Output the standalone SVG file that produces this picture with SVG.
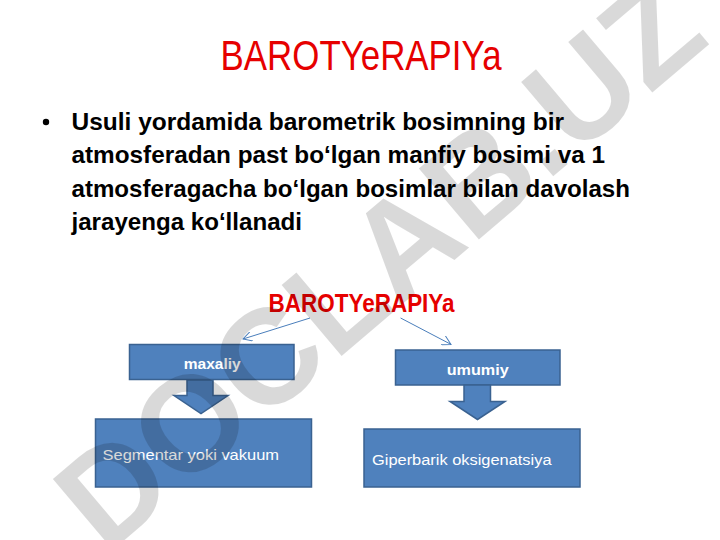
<svg xmlns="http://www.w3.org/2000/svg" width="720" height="540" viewBox="0 0 720 540">
<defs>
<style>
.title{font-family:"Liberation Sans",Arial,sans-serif;fill:#E60000;}
.body{font-family:"Liberation Sans",Arial,sans-serif;font-weight:bold;font-size:24px;fill:#000;}
.box{fill:#4F81BD;stroke:#3A6291;stroke-width:1.5;}
.lbl{font-family:"Liberation Sans",Arial,sans-serif;fill:#fff;}
.conn{stroke:#4A7EBB;stroke-width:1;fill:none;marker-end:url(#open);}
.wm{font-family:"Liberation Sans",Arial,sans-serif;font-weight:bold;font-size:135px;fill:#000;fill-opacity:0.15;}
</style>
<marker id="open" viewBox="0 0 10 10" refX="9" refY="5" markerWidth="10" markerHeight="10" markerUnits="userSpaceOnUse" orient="auto">
<path d="M0,0 L9,5 L0,10" fill="none" stroke="#4A7EBB" stroke-width="1"/>
</marker>
</defs>
<rect width="720" height="540" fill="#fff"/>
<g id="title">
<text class="title" x="220.6" y="70" font-size="42" textLength="281" lengthAdjust="spacingAndGlyphs">BAROTYeRAPIYa</text>
</g>
<g id="bullet">
<circle cx="46" cy="122" r="3.2" fill="#000"/>
<text class="body" x="71.5" y="130" textLength="492.5" lengthAdjust="spacingAndGlyphs">Usuli yordamida barometrik bosimning bir</text>
<text class="body" x="71.5" y="163" textLength="533.5" lengthAdjust="spacingAndGlyphs">atmosferadan past bo‘lgan manfiy bosimi va 1</text>
<text class="body" x="71.5" y="196.5" textLength="558.5" lengthAdjust="spacingAndGlyphs">atmosferagacha bo‘lgan bosimlar bilan davolash</text>
<text class="body" x="71.5" y="230" textLength="230.5" lengthAdjust="spacingAndGlyphs">jarayenga ko‘llanadi</text>
</g>
<g id="root">
<text class="title" x="268.6" y="311.5" font-size="25" font-weight="bold" textLength="186" lengthAdjust="spacingAndGlyphs">BAROTYeRAPIYa</text>
</g>
<g id="connectors">
<line class="conn" x1="310" y1="318" x2="243" y2="339"/>
<line class="conn" x1="400.6" y1="318" x2="451" y2="344.4"/>
</g>
<g id="maxaliy">
<rect class="box" x="129.5" y="344.5" width="164.5" height="35"/>
<text class="lbl" x="183.7" y="368.5" font-size="14" font-weight="bold" textLength="57" lengthAdjust="spacingAndGlyphs">maxaliy</text>
</g>
<g id="arrow-left">
<path class="box" d="M187,380 H213 V395.5 H228 L201,413.5 L174,395.5 H187 Z"/>
</g>
<g id="segmentar">
<rect class="box" x="95.5" y="419" width="216" height="68"/>
<text class="lbl" x="102.5" y="460" font-size="15" textLength="176.5" lengthAdjust="spacingAndGlyphs">Segmentar yoki vakuum</text>
</g>
<g id="umumiy">
<rect class="box" x="395.5" y="350" width="164.5" height="35"/>
<text class="lbl" x="446.7" y="374.5" font-size="14" font-weight="bold" textLength="62" lengthAdjust="spacingAndGlyphs">umumiy</text>
</g>
<g id="arrow-right">
<path class="box" d="M464,385 H490.5 V401.5 H505 L477.5,419.5 L450,401.5 H464 Z"/>
</g>
<g id="giperbarik">
<rect class="box" x="364" y="429" width="216" height="58"/>
<text class="lbl" x="372" y="464.5" font-size="14" textLength="179.5" lengthAdjust="spacingAndGlyphs">Giperbarik oksigenatsiya</text>
</g>
<g id="watermark" transform="translate(378,262) rotate(-40.3)">
<text class="wm" x="0" y="48" text-anchor="middle">DOCLAB.UZ</text>
</g>
</svg>
